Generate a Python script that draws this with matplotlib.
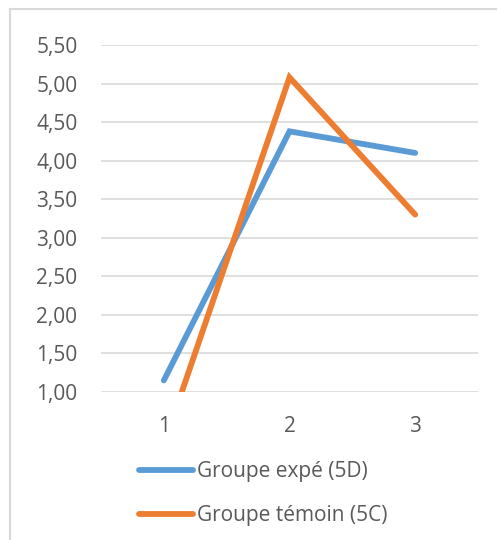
import matplotlib.pyplot as plt
from matplotlib.lines import Line2D
from matplotlib.ticker import FuncFormatter

plt.rcParams['font.family'] = ['Open Sans', 'DejaVu Sans']

categories = [1, 2, 3]
groupe_expe = [1.15, 4.38, 4.10]
groupe_temoin = [0.32, 5.08, 3.30]
y_ticks = [1.0, 1.5, 2.0, 2.5, 3.0, 3.5, 4.0, 4.5, 5.0, 5.5]

text_color = "#595959"

fig = plt.figure(figsize=(4.97, 5.40), dpi=100)
ax = fig.add_axes([0.2032, 0.2741, 0.7586, 0.6426])

ax.plot(categories, groupe_expe, color="#5B9BD5", linewidth=4.2,
        solid_capstyle="round", solid_joinstyle="miter", label="Groupe expé (5D)", zorder=3)
ax.plot(categories, groupe_temoin, color="#ED7D31", linewidth=4.2,
        solid_capstyle="round", solid_joinstyle="miter", label="Groupe témoin (5C)", zorder=3)

ax.set_xlim(0.5, 3.5)
ax.set_ylim(1.0, 5.5)
ax.set_xticks(categories)
ax.set_yticks(y_ticks)
ax.yaxis.set_major_formatter(FuncFormatter(lambda v, p: f"{v:.2f}".replace(".", ",")))

ax.grid(axis="y", color="#D9D9D9", linewidth=1.2)
ax.set_axisbelow(True)
for side in ["top", "right", "left", "bottom"]:
    ax.spines[side].set_visible(False)
ax.tick_params(length=0, labelsize=15, colors=text_color)
ax.tick_params(axis="y", pad=17)
ax.tick_params(axis="x", pad=17)

leg = fig.legend(loc="upper left", bbox_to_anchor=(0.263, 0.162), frameon=False,
                 fontsize=15, handlelength=2.6, handletextpad=0.2, labelspacing=1.13,
                 borderaxespad=0)
for t in leg.get_texts():
    t.set_color(text_color)

# chart frame
frame_color = "#D9D9D9"
fig.add_artist(Line2D([0.021, 0.021], [0.0, 0.983], color=frame_color, linewidth=1.5,
                      transform=fig.transFigure))
fig.add_artist(Line2D([0.021, 1.0], [0.983, 0.983], color=frame_color, linewidth=1.5,
                      transform=fig.transFigure))

fig.savefig("out.png", dpi=100)
